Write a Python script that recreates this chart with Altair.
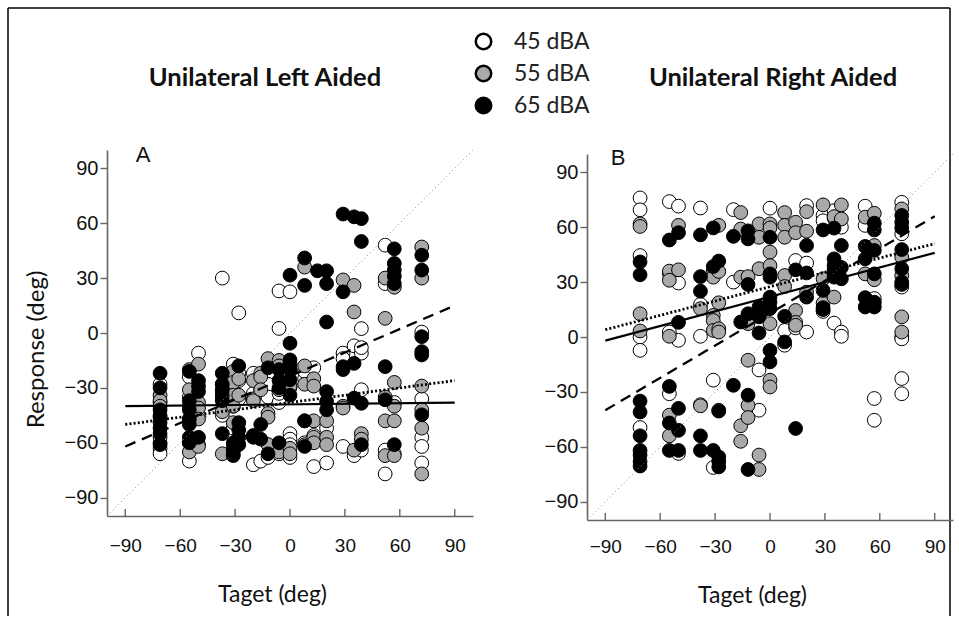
import altair as alt
import pandas as pd

LEVELS = ["45 dBA", "55 dBA", "65 dBA"]
FILLS = ["#ffffff", "#a9a9a9", "#000000"]
TICKS = [-90, -60, -30, 0, 30, 60, 90]

# ---- Panel A (Unilateral Left Aided): target -> responses ----
A_45 = {
    -71: [-28, -60, -63, -66, -38], -55: [-24, -47, -70, -35], -50: [-11, -45, -61],
    -37: [30, -32, -45], -31: [-17, -29, -40, -52, -62], -28: [11, -22, -26, -36],
    -20: [-22, -33, -72], -16: [-26, -31, -36, -70], -12: [-28, -35, -68],
    -6: [23, 2.5, -38, -33, -66], 0: [22.5, -30, -55, -58, -61, -68], 8: [-25, -21, -60],
    13: [-19, -56, -73], 20: [-71, -52], 29: [-11, -14, -62], 35: [-7, -67],
    39: [2.4, -11, -31, -64, -8], 52: [48, 27, -64, -77], 57: [-38, -66],
    72: [0.5, -36, -57, -62, -71],
}
A_55 = {
    -71: [-34, -37, -40, -45, -57], -55: [-20, -31, -40, -60, -65], -50: [-17, -38, -41, -47, -62],
    -37: [-28, -36, -43, -66], -31: [-21, -27, -34, -40, -49, -66], -28: [-25, -34],
    -20: [-26, -36, -37], -16: [-22, -24, -31], -12: [-14, -44, -46, -61],
    -6: [-15, -18, -31, -65], 0: [-20, -29, -63, -66], 8: [36, -18, -28, -48, -61],
    13: [-25, -29, -48, -57, -60], 20: [-48, -57, -61], 29: [29, -40, -41], 35: [26, 11.5, -64],
    39: [-55, -58], 52: [30, 8, -35, -48, -67], 57: [25, -27, -40, -48, -67],
    72: [47, 30, -29, -42, -52, -77],
}
A_65 = {
    -71: [-22, -30, -42, -46, -49, -52, -55, -61], -55: [-21, -37, -42, -47, -50, -57, -60],
    -50: [-26, -29, -32, -57], -37: [-22, -28, -31, -34, -37, -55], -31: [-60, -64, -67],
    -28: [-18, -49, -53, -57, -61], -20: [-56, -57], -16: [-50, -58], -12: [-19, -66],
    -6: [-20, -26, -30, -60], 0: [31.6, -5.6, -14.7, -16.6, -20, -25.6, -34], 8: [41, 26, -48, -62],
    15: [34], 20: [34, 27, 6, -32, -37.5, -42], 29: [65, 22.5, -18.4, -20],
    35: [63.5, -16.6, -35.6], 39: [62.5, 50, -38.4, -61], 52: [-18.4, -36.5],
    57: [46, 38, 34.4, 31, 27, -61], 72: [42.5, 34.4, -2, -10.2, -12, -44.7],
}

# ---- Panel B (Unilateral Right Aided) ----
B_45 = {
    -71: [76, 69.5, 44.5, 0, -7.3, -49.5], -55: [74, 34.5, 2.7, -31], -50: [71.5, 29.5, -1.8, -63.6],
    -38: [70.5, 17.8, 0.4, -37], -31: [-23.6, -71.3], -28: [-40], -20: [69.6, 30],
    -6: [-18, -40], 0: [70.4], 8: [3.6, -4.5], 14: [41.8, 5], 20: [71.8, 40.4, 2.7],
    29: [66.4, 63.5, 14], 35: [69, 65, 7.6], 39: [60, 2.7, 0.4], 52: [71.5, 61],
    57: [21, -33.6, -45.5], 72: [73.6, 56.4, 27.3, 0, -1, -22.7, -31],
}
B_55 = {
    -71: [61.8, 60.4, 12.7, 3.3], -55: [36, 31, 0.4, -42.7, -54], -50: [61, 36.7],
    -38: [15.5, -37.6], -31: [36.7, 32.7, 11.8, 9, 3.6], -28: [61, 35.8, 18.7, 4.5, 2.7],
    -16: [68, 59, 32.7, -48.5, -57], -12: [33, 7.3, -12.7, -37.3, -44],
    -6: [61.8, 54.5, 37.3, -64.5, -72.4], 0: [61.8, 59.6, 46.4, 39, 7.3, -23.6, -27.3],
    8: [68, 61, 54.5, 33.6, 27.6], 14: [62.7, 57, 14.5, 8, 6.4], 20: [68.5, 57.8, 24.5],
    29: [72.2, 31.8, 18.5], 35: [65.8, 21.8], 39: [72.2, 64.5], 52: [65.5, 34.5],
    57: [67.6, 50, 31.3], 72: [70, 43.6, 33.6, 11, 2.7],
}
B_65 = {
    -71: [41, 34, -35, -41, -54, -62, -64.5, -68, -70.5], -55: [53, -27, -47, -62],
    -50: [57, 8, -39, -51, -62], -38: [55.8, 33, 25, -54, -62], -31: [59.6, 38.5, -62],
    -28: [41.5, -40.5, -65.5, -68, -71], -20: [55, -26.4], -16: [8.2],
    -12: [58, 53.6, 28.7, 12.7, -31.8, -72.4], -6: [16.4, 11, 2.2],
    0: [54.5, 34.5, 32.7, 21.8, 19, 15.5, -7.3, -13.6], 8: [11.3, -2.7], 14: [36.7, -50],
    20: [50, 35, 21.8], 29: [58.5, 25.5, 16, 15], 35: [59.5, 42.7, 39, 36.4, 34.5, 32.7],
    39: [50, 38, 31.8], 52: [49.5, 42.7, 21.5, 16.4], 57: [62.2, 58.5, 47.3, 34.5, 19, 16.4],
    72: [66.4, 62.7, 59.6, 47.8, 37.3, 30, 28.7],
}

# ---- regression lines: responses at target -90 and +90 ----
FIT_X = [-90, 90]
A_FIT = {"solid": [-40, -38], "dotted": [-50, -26], "dashed": [-62, 15]}
B_FIT = {"solid": [-2, 46], "dotted": [4, 51], "dashed": [-40, 66]}
DIAG = [-100, 100]


def points_df(sets):
    rows = []
    for lvl, d in zip(LEVELS, sets):
        for t, vals in d.items():
            for v in vals:
                rows.append({"target": t, "response": v, "level": lvl})
    return pd.DataFrame(rows)


def fit_df(fits):
    rows = []
    for style, ys in fits.items():
        for x, y in zip(FIT_X, ys):
            rows.append({"x": x, "y": y, "style": style})
    return pd.DataFrame(rows)


W = H = 366
XS = alt.Scale(domain=[-100, 100], nice=False, zero=False)
YS = alt.Scale(domain=[-100, 100], nice=False, zero=False)
AX_COL = "#666666"


def panel(pts, fits, letter, title, title_x, title_y, letter_xy, ytitle, frame, dy):
    xaxis = alt.Axis(values=TICKS, ticks=False, tickSize=0, labelPadding=20 - dy,
                     labelFont="Liberation Sans Narrow, Liberation Sans", labelFontSize=19,
                     labelColor="#111",
                     title="Taget (deg)", titleFont="Lato", titleFontSize=23,
                     titleFontWeight="normal", titleColor="#111", titleX=165, titleY=78 - dy,
                     titleBaseline="middle", domainColor=AX_COL, domainWidth=1.6)
    yaxis = alt.Axis(values=TICKS, tickSize=7, tickColor=AX_COL, tickWidth=1.4,
                     labelPadding=2, labelFont="Liberation Sans", labelFontSize=20,
                     labelColor="#111", domainColor=AX_COL, domainWidth=1.6,
                     title=ytitle if ytitle else None, titleFont="Lato", titleFontSize=24,
                     titleFontWeight="normal", titleColor="#111", titlePadding=16,
                     titleY=199)
    pts_layer = alt.Chart(pts).mark_circle(size=190, stroke="black", strokeWidth=1,
                                            opacity=1).encode(
        x=alt.X("target:Q", scale=XS, axis=xaxis),
        y=alt.Y("response:Q", scale=YS, axis=yaxis),
        fill=alt.Fill("level:N", scale=alt.Scale(domain=LEVELS, range=FILLS),
                      legend=alt.Legend(title=None, orient="none", legendX=365, legendY=-120,
                                        symbolType="circle", symbolSize=240,
                                        symbolStrokeColor="black", symbolStrokeWidth=2.5,
                                        labelFont="Lato", labelFontSize=23, labelColor="#222",
                                        labelOffset=19, rowPadding=5, padding=0)),
    )
    fdf = fit_df(fits)
    diag = alt.Chart(pd.DataFrame({"x": DIAG, "y": DIAG})).mark_line(
        color="#888", strokeWidth=1, strokeDash=[1, 3], clip=True).encode(
        x=alt.X("x:Q", scale=XS), y=alt.Y("y:Q", scale=YS))

    def fl(style, dash, width):
        m = dict(color="black", strokeWidth=width, clip=True)
        if dash:
            m["strokeDash"] = dash
        return alt.Chart(fdf).transform_filter(alt.datum.style == style).mark_line(**m).encode(
            x=alt.X("x:Q", scale=XS), y=alt.Y("y:Q", scale=YS))

    xt = alt.Chart(pd.DataFrame({"t": TICKS})).mark_rule(color=AX_COL, strokeWidth=1.4).encode(
        x=alt.X("t:Q", scale=XS), y=alt.value(H - 7), y2=alt.value(H))
    let = alt.Chart(pd.DataFrame({"s": [letter]})).mark_text(
        font="Liberation Sans", fontSize=22, color="#111", align="center",
        baseline="middle").encode(text="s:N", x=alt.value(letter_xy[0]), y=alt.value(letter_xy[1]))
    ttl = alt.Chart(pd.DataFrame({"s": [title]})).mark_text(
        font="Lato", fontSize=25.5, fontWeight="bold", color="#111", align="center",
        baseline="middle").encode(text="s:N", x=alt.value(title_x), y=alt.value(title_y))
    layers = [pts_layer, diag, fl("solid", None, 2.2), fl("dotted", [2, 2.2], 2.8),
              fl("dashed", [11, 7], 2.3), xt, let, ttl]
    if frame:
        edges = pd.DataFrame({"x1": [-99, -99, 843], "x2": [843, -99, 843],
                              "y1": [-142, -142, -142], "y2": [-142, 466, 466]})
        fr = alt.Chart(edges).mark_rule(color="black", strokeWidth=1.5).encode(
            x=alt.X("x1:Q", scale=None), x2="x2:Q",
            y=alt.Y("y1:Q", scale=None), y2="y2:Q")
        layers = [fr] + layers
    return alt.layer(*layers).properties(width=W, height=H)


pa = panel(points_df([A_45, A_55, A_65]), A_FIT, "A", "Unilateral Left Aided", 158, -72,
           (36, 5), "Response (deg)", True, 0)
pb = panel(points_df([B_45, B_55, B_65]), B_FIT, "B", "Unilateral Right Aided", 186, -76,
           (31, 4), None, False, 3)

# panel B sits a few pixels lower than panel A in the original figure
spacer = alt.Chart(pd.DataFrame({"s": [0]})).mark_point(opacity=0).properties(width=W, height=1)
right = alt.vconcat(spacer, pb, spacing=3).properties(bounds="flush")

chart = alt.hconcat(pa, right, spacing=114).properties(
    bounds="flush", padding={"left": 7, "top": 7, "right": 2, "bottom": 0}
).configure_view(stroke=None).configure_axis(grid=False)

chart.save("out.html", embed_options={"renderer": "svg", "actions": False})
